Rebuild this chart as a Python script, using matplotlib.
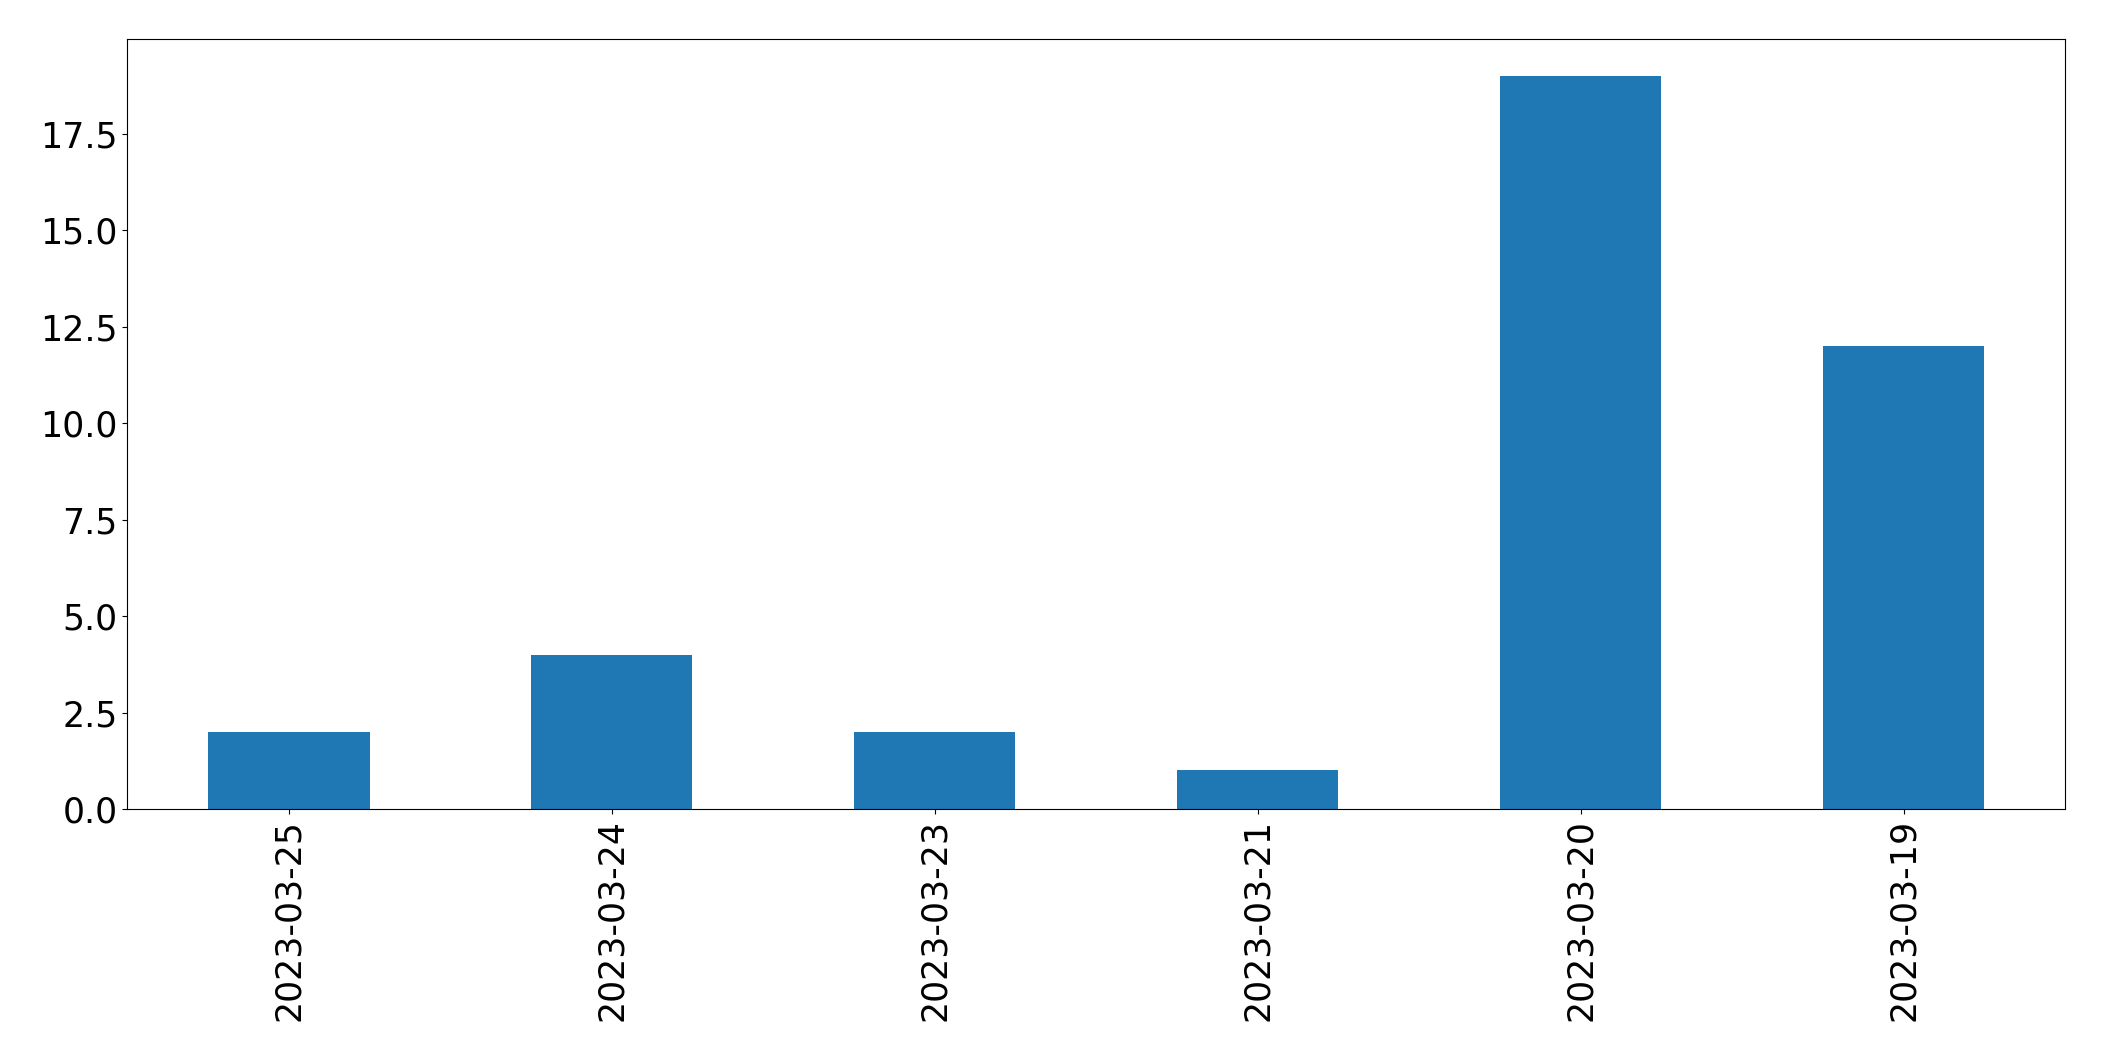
import matplotlib
matplotlib.use('Agg')
import matplotlib.pyplot as plt
import pandas as pd

dates = ['2023-03-25', '2023-03-24', '2023-03-23', '2023-03-21', '2023-03-20', '2023-03-19']
counts = [2, 4, 2, 1, 19, 12]

s = pd.Series(counts, index=dates)

fig = plt.figure(figsize=(21.04, 10.61), dpi=100)
ax = fig.add_axes([0.0605, 0.2375, 0.921, 0.7257])
s.plot(kind='bar', ax=ax, color='#1f77b4', fontsize=25)
ax.tick_params(axis='both', labelsize=25)

plt.savefig('out.png', dpi=100)
